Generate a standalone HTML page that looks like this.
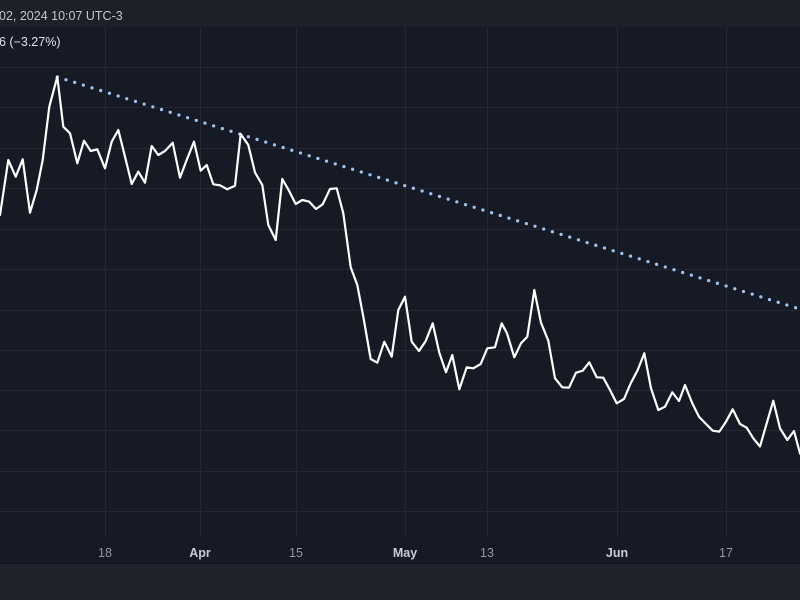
<!DOCTYPE html>
<html><head><meta charset="utf-8"><style>
html,body{margin:0;padding:0;background:#161a25;}
svg{display:block;}
</style></head><body>
<svg width="800" height="600" viewBox="0 0 800 600" xmlns="http://www.w3.org/2000/svg">
<rect x="0" y="0" width="800" height="600" fill="#161a25"/>
<rect x="0" y="0" width="800" height="27" fill="#1d2029"/>
<rect x="0" y="564" width="800" height="36" fill="#1f222b"/>
<line x1="0" y1="563.5" x2="800" y2="563.5" stroke="#12151d" stroke-width="1"/>
<g stroke="#232835" stroke-width="1">
<line x1="0" y1="67.5" x2="800" y2="67.5"/>
<line x1="0" y1="107.5" x2="800" y2="107.5"/>
<line x1="0" y1="148.5" x2="800" y2="148.5"/>
<line x1="0" y1="188.5" x2="800" y2="188.5"/>
<line x1="0" y1="229.5" x2="800" y2="229.5"/>
<line x1="0" y1="269.5" x2="800" y2="269.5"/>
<line x1="0" y1="310.5" x2="800" y2="310.5"/>
<line x1="0" y1="350.5" x2="800" y2="350.5"/>
<line x1="0" y1="390.5" x2="800" y2="390.5"/>
<line x1="0" y1="430.5" x2="800" y2="430.5"/>
<line x1="0" y1="471.5" x2="800" y2="471.5"/>
<line x1="0" y1="511.5" x2="800" y2="511.5"/>
<line x1="105.5" y1="27" x2="105.5" y2="537"/>
<line x1="200.5" y1="27" x2="200.5" y2="537"/>
<line x1="296.5" y1="27" x2="296.5" y2="537"/>
<line x1="405.5" y1="27" x2="405.5" y2="537"/>
<line x1="487.5" y1="27" x2="487.5" y2="537"/>
<line x1="617.5" y1="27" x2="617.5" y2="537"/>
<line x1="726.5" y1="27" x2="726.5" y2="537"/>
</g>
<line x1="57.3" y1="77" x2="805" y2="310.7" stroke="#9cc2ee" stroke-width="3.3" stroke-linecap="round" stroke-dasharray="0 9.1"/>
<polyline fill="none" stroke="#ffffff" stroke-width="2.2" stroke-linejoin="round" stroke-linecap="round" points="0,215 8.3,160 15.7,176.7 22.7,159.3 30,212.7 36.7,190 42.7,160 49.3,106.7 57.3,76.7 63.3,126.7 70,133.3 77.3,163.3 84,140.7 90.7,151 97.3,149.3 105,168.3 111.7,141.7 118.3,130 125,156.7 131.7,184 138.3,171.7 145,182.7 151.7,146 158.3,155 165,151 172.7,142.7 180,177.7 186.7,160 194,141.7 200.7,170.7 206.7,165 213.3,184.3 220,185.3 227.3,189.3 235,185.7 240.7,134 248.3,145 255,172.5 262.3,185 268.3,225 275.7,240 282.3,179 289,190.7 295.7,204 302.3,200 309.3,201.7 316,209 322.7,204.3 330,189 336.7,188.3 343.3,213.3 350.7,267.3 357.3,285 363.3,316.7 370.7,359 377.3,362.7 384.3,341.7 391.7,356.7 398.3,310 405,296.7 411.7,341.7 419,351 425.7,341 432.7,323.3 439.3,352.7 446,372.3 452.3,355 459.3,389.3 466.7,367.3 473.3,368.3 480.7,364 487.3,348.3 495,347.3 501.7,323.3 507,333.3 514.3,357.3 521,343.3 527.3,336.7 534.3,290 541,322.7 548.3,340.7 555,378.3 562.3,387.3 569,387.7 576,372.7 582.7,370.7 589.3,362.3 596.7,377.3 603.3,377.7 610,390 616.7,403.3 624,399 631,382.7 637.7,370 644.3,353.3 651,388.3 658.3,410 665,406.7 672.3,392.3 679,401 685,385 692.3,403.3 699,416.7 706,424 712.7,430.7 719.3,431.7 726,421.7 732.7,409.3 740,424 746.7,427.7 753.3,438.3 760,446.5 766.7,423.3 773.3,400.7 780,428.3 787.3,440 794,431 800,453.3 806,462"/>
<g font-family="Liberation Sans, sans-serif" font-size="12.5">
<text x="-1" y="20" fill="#c3c6ce">02, 2024 10:07 UTC-3</text>
<text x="-1" y="46" fill="#e0e3eb">6 (−3.27%)</text>
</g>
<g font-family="Liberation Sans, sans-serif" font-size="12.5" text-anchor="middle">
<text x="105" y="557" fill="#9598a1">18</text>
<text x="200" y="557" fill="#c9ccd4" font-weight="bold">Apr</text>
<text x="296" y="557" fill="#9598a1">15</text>
<text x="405" y="557" fill="#c9ccd4" font-weight="bold">May</text>
<text x="487" y="557" fill="#9598a1">13</text>
<text x="617" y="557" fill="#c9ccd4" font-weight="bold">Jun</text>
<text x="726" y="557" fill="#9598a1">17</text>
</g>
</svg>
</body></html>
